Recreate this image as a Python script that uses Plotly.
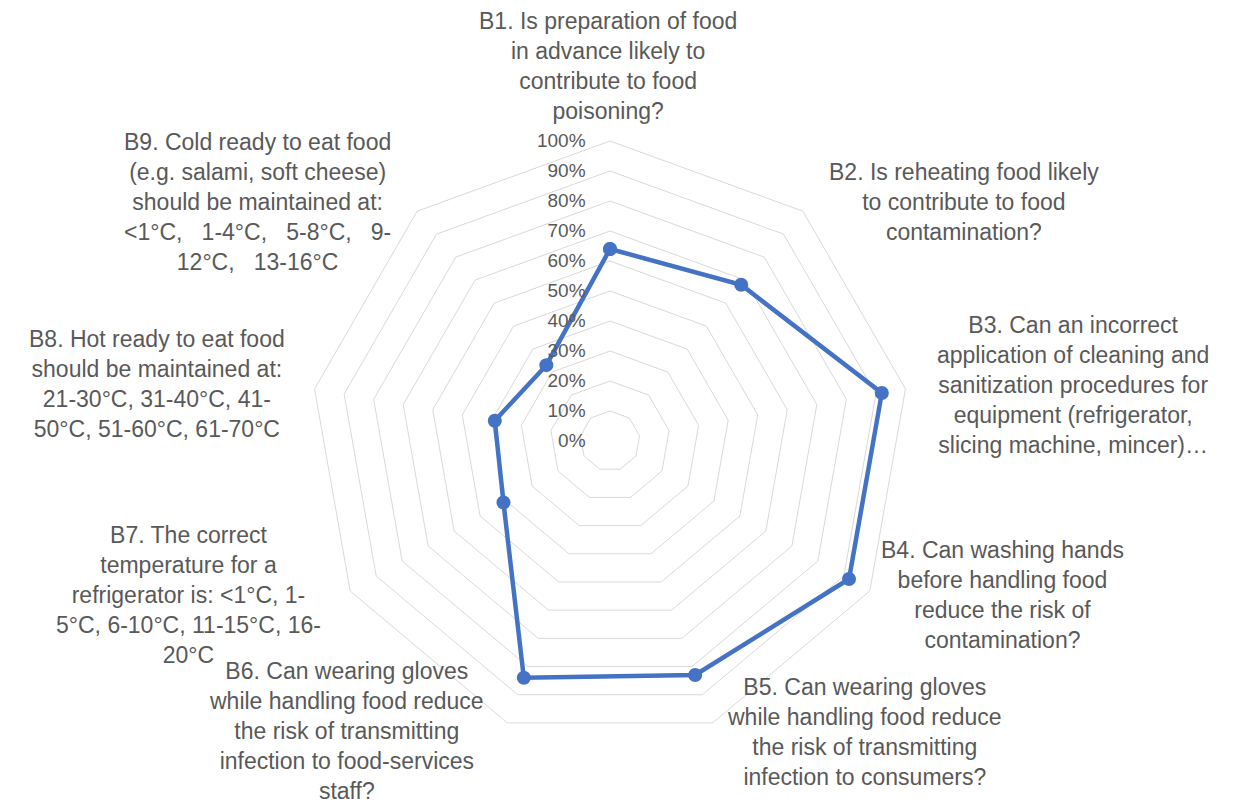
import plotly.graph_objects as go

W, H = 1247, 805

categories = [
    "B1. Is preparation of food<br>in advance likely to<br>contribute to food<br>poisoning?",
    "B2. Is reheating food likely<br>to contribute to food<br>contamination?",
    "B3. Can an incorrect<br>application of cleaning and<br>sanitization procedures for<br>equipment (refrigerator,<br>slicing machine, mincer)…",
    "B4. Can washing hands<br>before handling food<br>reduce the risk of<br>contamination?",
    "B5. Can wearing gloves<br>while handling food reduce<br>the risk of transmitting<br>infection to consumers?",
    "B6. Can wearing gloves<br>while handling food reduce<br>the risk of transmitting<br>infection to food-services<br>staff?",
    "B7. The correct<br>temperature for a<br>refrigerator is: <1°C, 1-<br>5°C, 6-10°C, 11-15°C, 16-<br>20°C",
    "B8. Hot ready to eat food<br>should be maintained at:<br>21-30°C, 31-40°C, 41-<br>50°C, 51-60°C, 61-70°C",
    "B9. Cold ready to eat food<br>(e.g. salami, soft cheese)<br>should be maintained at:<br><1°C,   1-4°C,   5-8°C,   9-<br>12°C,   13-16°C",
]
values = [64, 68, 92, 92, 83, 84, 41, 39, 33]
radial_ticks = [0, 10, 20, 30, 40, 50, 60, 70, 80, 90, 100]

# label centre positions in pixels (layout only)
label_pos = [(608, 66), (964, 202), (1073, 385), (1003, 595), (864, 732),
             (346, 731), (188, 595), (157, 384), (257, 202)]

cx, cy, R = 610, 441, 300

fig = go.Figure()
fig.add_trace(go.Scatterpolar(
    r=values + values[:1],
    theta=categories + categories[:1],
    mode="lines+markers",
    line=dict(color="#4472C4", width=4.5),
    marker=dict(color="#4472C4", size=14),
    showlegend=False,
))

grid = "#d9d9d9"
txt = "#595959"
fnt = "Arial, Liberation Sans, sans-serif"
pad = "\u00a0" * 4
fig.update_layout(
    width=W, height=H,
    margin=dict(l=0, r=0, t=0, b=0),
    paper_bgcolor="white",
    plot_bgcolor="white",
    font=dict(family=fnt, color=txt),
    polar=dict(
        domain=dict(x=[(cx - R) / W, (cx + R) / W],
                    y=[1 - (cy + R) / H, 1 - (cy - R) / H]),
        bgcolor="white",
        gridshape="linear",
        angularaxis=dict(
            direction="clockwise", rotation=90,
            showgrid=False, showticklabels=False, ticks="",
            showline=True, linecolor=grid, linewidth=1,
        ),
        radialaxis=dict(
            range=[0, 100], tickvals=radial_ticks,
            ticktext=[f"{v}%{pad}" for v in radial_ticks],
            angle=90, tickangle=90, side="counterclockwise",
            showline=False, ticks="",
            gridcolor=grid, gridwidth=1,
            tickfont=dict(size=19, color=txt),
        ),
    ),
)

for lab, (px, py) in zip(categories, label_pos):
    fig.add_annotation(
        text=lab, x=px / W, y=1 - py / H, xref="paper", yref="paper",
        xanchor="center", yanchor="middle", align="center", showarrow=False,
        font=dict(size=23, color=txt, family=fnt),
    )

fig.write_html("out.html")
